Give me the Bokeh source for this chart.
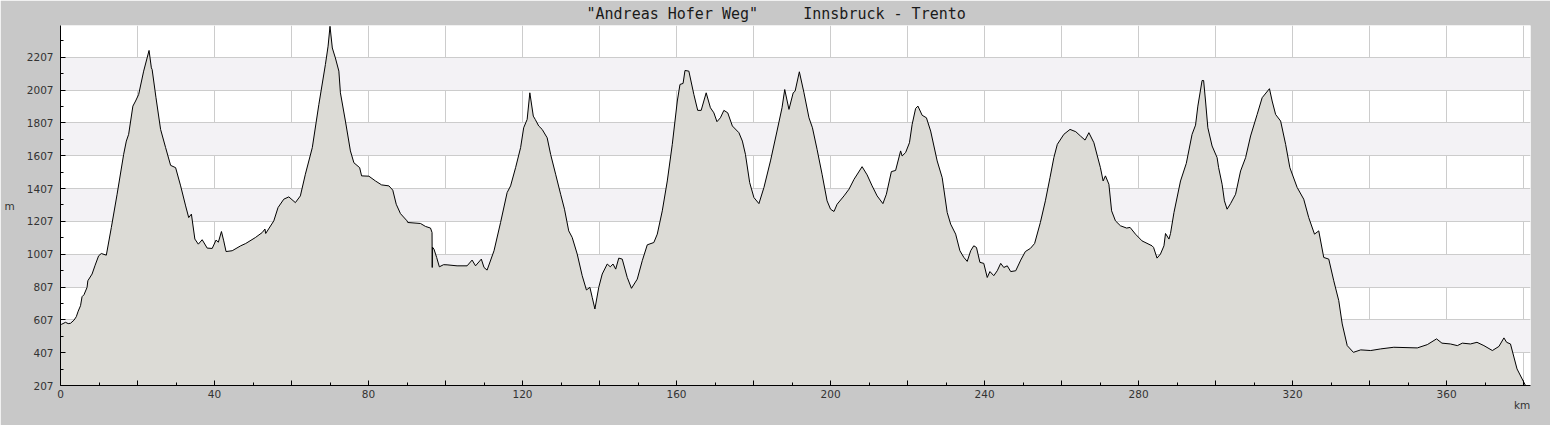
from bokeh.plotting import figure
from bokeh.models import FixedTicker, Range1d, ColumnDataSource, LinearAxis
from bokeh.embed import file_html
from bokeh.resources import INLINE

NBSP = "\u00a0"
title_text = '"Andreas' + NBSP + 'Hofer' + NBSP + 'Weg"' + NBSP * 5 + 'Innsbruck' + NBSP + '-' + NBSP + 'Trento'
x_axis_label = "km"
y_axis_label = "m"

km = [0.0, 0.3, 1.3, 2.0, 2.6, 3.5, 4.1, 4.6, 5.2, 5.6, 6.1, 6.9, 7.1, 8.2, 9.0, 9.9,
      10.6, 11.9, 13.2, 14.7, 16.4, 17.1, 17.7, 18.8, 19.5, 20.3, 21.6, 23.0, 23.6, 23.8,
      24.8, 26.0, 27.3, 28.6, 29.9, 31.2, 32.5, 33.3, 34.0, 34.9, 35.8, 36.8, 38.1, 39.4,
      40.4, 41.0, 41.8, 42.4, 43.0, 44.6, 46.8, 48.1, 50.6, 52.4, 53.1, 53.3, 55.4, 56.5,
      58.0, 59.3, 61.0, 62.3, 63.6, 65.4, 67.1, 68.8, 69.5, 70.0, 70.6, 71.4, 72.3, 72.7,
      74.0, 75.3, 76.2, 77.7, 78.2, 80.1, 81.8, 83.4, 85.3, 86.3, 87.2, 88.3, 90.0, 90.2,
      93.5, 94.8, 96.1, 96.5, 96.55, 96.6, 97.0, 97.7, 98.4, 99.5, 100.4, 103.0, 105.6,
      106.9, 107.8, 109.3, 110.0, 110.8, 112.6, 114.3, 116.0, 116.9, 118.2, 119.5, 120.3,
      121.2, 121.9, 122.8, 123.3, 124.2, 125.1, 126.4, 127.3, 128.6, 129.9, 130.9, 132.0,
      132.9, 134.2, 135.5, 136.6, 137.5, 138.1, 138.8, 139.8, 140.7, 142.0, 142.8, 143.5,
      144.2, 145.0, 145.9, 147.2, 148.3, 149.8, 151.1, 152.4, 154.1, 155.0, 156.3, 157.6,
      158.9, 160.2, 160.9, 161.7, 162.2, 163.2, 164.5, 165.5, 166.4, 167.7, 168.8, 169.7,
      170.5, 171.4, 172.3, 173.3, 174.5, 176.2, 177.1, 177.9, 179.0, 180.1, 181.4, 182.7,
      184.4, 186.1, 187.4, 188.1, 189.2, 190.3, 190.8, 191.9, 193.1, 194.4, 195.3, 196.5,
      197.8, 199.1, 200.0, 200.9, 201.7, 203.5, 204.8, 206.1, 208.2, 209.5, 210.8, 212.1,
      213.6, 214.5, 215.8, 216.9, 218.2, 218.6, 219.5, 220.5, 221.2, 222.1, 222.7, 223.8,
      224.9, 226.0, 227.7, 229.0, 230.3, 231.2, 232.5, 233.6, 234.6, 235.5, 236.4, 237.2,
      237.9, 238.8, 239.8, 240.7, 241.4, 242.4, 243.3, 244.2, 245.0, 245.9, 246.8, 248.1,
      249.4, 250.6, 251.9, 253.0, 254.5, 255.8, 257.0, 258.0, 258.9, 260.6, 262.2, 263.7,
      264.9, 266.1, 267.1, 268.4, 269.3, 270.1, 270.8, 271.4, 272.3, 273.0, 274.0, 275.3,
      276.9, 277.8, 279.2, 280.9, 283.5, 283.9, 284.8, 285.7, 286.6, 287.0, 287.9, 288.3,
      289.2, 290.9, 292.4, 293.9, 294.8, 295.4, 296.5, 296.9, 297.4, 298.0, 299.1, 300.4,
      300.8, 301.7, 302.3, 303.0, 303.9, 305.2, 306.5, 307.8, 309.1, 310.8, 312.1, 314.0,
      314.7, 315.6, 316.9, 318.2, 319.3, 321.2, 322.9, 324.2, 325.7, 326.8, 328.1, 329.4,
      330.7, 332.0, 332.9, 334.2, 335.8, 337.7, 340.3, 342.9, 346.3, 352.4, 355.0, 357.4,
      358.8, 361.0, 362.8, 364.1, 366.2, 367.9, 369.7, 371.9, 373.6, 374.9, 375.6, 376.6,
      378.3, 380.5]

elevation_m = [578, 580, 592, 584, 586, 605, 626, 660, 693, 748, 760, 805, 845, 886, 940, 997,
               1011, 1001, 1169, 1372, 1615, 1696, 1737, 1909, 1940, 1980, 2122, 2248, 2142, 2132,
               1960, 1767, 1656, 1548, 1534, 1423, 1301, 1230, 1251, 1099, 1068, 1095, 1044, 1042,
               1093, 1080, 1145, 1088, 1023, 1028, 1058, 1072, 1108, 1139, 1160, 1133, 1210, 1291,
               1342, 1356, 1321, 1362, 1494, 1656, 1919, 2162, 2274, 2395, 2263, 2202, 2122, 1990,
               1818, 1636, 1564, 1534, 1484, 1482, 1453, 1429, 1423, 1397, 1311, 1254, 1210, 1200,
               1194, 1176, 1166, 1139, 926, 1050, 1038, 987, 930, 943, 942, 936, 936,
               971, 936, 977, 926, 910, 1028, 1200, 1382, 1423, 1534, 1656, 1777,
               1828, 1990, 1848, 1828, 1788, 1767, 1716, 1615, 1494, 1372, 1281, 1149,
               1109, 1008, 876, 789, 805, 744, 673, 805, 886, 947, 930, 947,
               916, 983, 977, 865, 799, 855, 967, 1064, 1078, 1129, 1271, 1453,
               1676, 1940, 2041, 2047, 2126, 2122, 1980, 1883, 1883, 1990, 1899, 1868,
               1814, 1838, 1883, 1868, 1788, 1747, 1696, 1615, 1443, 1352, 1315, 1413,
               1575, 1757, 1899, 2010, 1889, 1990, 2000, 2118, 1990, 1838, 1777, 1646,
               1494, 1332, 1281, 1267, 1311, 1362, 1403, 1463, 1540, 1490, 1423, 1362,
               1315, 1372, 1510, 1517, 1636, 1605, 1626, 1686, 1798, 1895, 1909, 1853,
               1838, 1757, 1575, 1473, 1261, 1190, 1129, 1028, 988, 963, 1028, 1058,
               1048, 957, 951, 865, 901, 876, 906, 951, 926, 936, 901, 906,
               971, 1023, 1042, 1072, 1200, 1332, 1473, 1595, 1676, 1737, 1767, 1753,
               1727, 1702, 1747, 1686, 1605, 1534, 1453, 1484, 1433, 1271, 1210, 1180,
               1166, 1170, 1129, 1088, 1058, 1048, 983, 1008, 1058, 1133, 1099, 1133,
               1261, 1453, 1560, 1737, 1793, 1909, 2065, 2065, 1940, 1777, 1666, 1595,
               1534, 1433, 1332, 1281, 1315, 1372, 1514, 1595, 1727, 1858, 1960, 2015,
               1940, 1858, 1818, 1676, 1534, 1413, 1342, 1230, 1129, 1149, 987, 977,
               845, 724, 582, 450, 409, 424, 420, 430, 440, 436, 456, 491,
               465, 460, 450, 465, 460, 470, 450, 420, 445, 497, 470, 460,
               308, 207]

y_major_ticks = [207, 407, 607, 807, 1007, 1207, 1407, 1607, 1807, 2007, 2207]
y_minor_ticks = [307, 507, 707, 907, 1107, 1307, 1507, 1707, 1907, 2107, 2307]
x_major_ticks = [0, 20, 40, 60, 80, 100, 120, 140, 160, 180, 200, 220, 240, 260, 280, 300, 320, 340, 360, 380]
x_minor_ticks = [10, 30, 50, 70, 90, 110, 130, 150, 170, 190, 210, 230, 250, 270, 290, 310, 330, 350, 370]
x_tick_labels = {t: (str(t) if t % 40 == 0 else "") for t in x_major_ticks}

x_start, x_end = 0, 381.8
y_start, y_end = 207, 2400
base = [y_start] * len(km)

src = ColumnDataSource(dict(km=km, elev=elevation_m, base=base))

BG = "#c8c8c8"
TXT = "#333333"
p = figure(width=1550, height=425, output_backend="svg", toolbar_location=None,
           title=title_text, x_range=Range1d(x_start, x_end), y_range=Range1d(y_start, y_end),
           min_border_left=60, min_border_right=20, min_border_top=25, min_border_bottom=40)
p.border_fill_color = BG
p.background_fill_color = "white"
p.outline_line_color = None

# title
p.title.align = "left"
p.title.offset = 526
p.title.standoff = 5
p.title.text_font = "DejaVu Sans Mono"
p.title.text_font_size = "15px"
p.title.text_font_style = "normal"
p.title.text_color = "#1a1a1a"

p.varea(x="km", y1="base", y2="elev", source=src, fill_color="#dcdbd6")
p.line(x="km", y="elev", source=src, line_color="black", line_width=1)

# axes
p.yaxis.ticker = FixedTicker(ticks=y_major_ticks, minor_ticks=y_minor_ticks)
p.xaxis.ticker = FixedTicker(ticks=x_major_ticks, minor_ticks=x_minor_ticks)
p.xaxis.major_label_overrides = x_tick_labels
for ax in (p.xaxis[0], p.yaxis[0]):
    ax.axis_line_color = "black"
    ax.axis_line_width = 1
    ax.major_tick_in = 5
    ax.major_tick_out = 0
    ax.minor_tick_in = 3
    ax.minor_tick_out = 0
    ax.major_tick_line_color = "black"
    ax.minor_tick_line_color = "black"
    ax.major_label_text_font = "DejaVu Sans"
    ax.major_label_text_font_size = "10.5px"
    ax.major_label_text_color = TXT
p.yaxis.major_label_standoff = 7
p.xaxis.major_label_standoff = 4

p.yaxis.axis_label = y_axis_label
p.yaxis.axis_label_orientation = "horizontal"
p.yaxis.axis_label_standoff = 9
p.yaxis.axis_label_text_font = "DejaVu Sans"
p.yaxis.axis_label_text_font_size = "10.5px"
p.yaxis.axis_label_text_font_style = "normal"
p.yaxis.axis_label_text_color = TXT

# "km" at the right end below the x axis
km_pos = 379.6
km_axis = LinearAxis(ticker=FixedTicker(ticks=[km_pos]),
                     major_label_overrides={km_pos: x_axis_label},
                     axis_line_color=None, major_tick_line_color=None,
                     minor_tick_line_color=None, major_tick_in=0, major_tick_out=0,
                     major_label_standoff=-2,
                     major_label_text_font="DejaVu Sans", major_label_text_font_size="10.5px",
                     major_label_text_color=TXT)
p.add_layout(km_axis, "below")

# grids
p.xgrid.ticker = FixedTicker(ticks=x_major_ticks)
p.ygrid.ticker = FixedTicker(ticks=y_major_ticks)
p.xgrid.grid_line_color = "#cccccc"
p.ygrid.grid_line_color = "#cccccc"
p.ygrid.band_fill_color = "#f3f2f5"
p.ygrid.band_fill_alpha = 1.0

open("out.html", "w").write(file_html(p, INLINE))
